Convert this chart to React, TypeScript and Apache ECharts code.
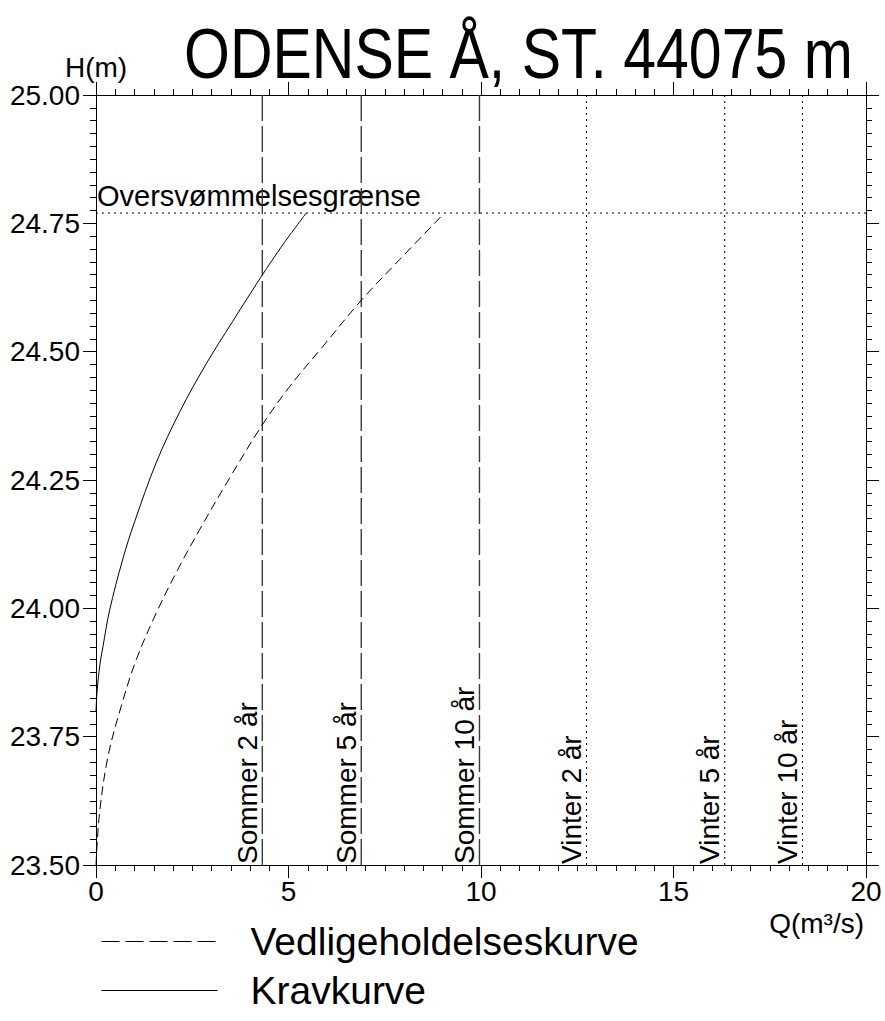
import React, { useEffect, useRef } from "react";
import * as echarts from "echarts";

const FONT = "'Liberation Sans', Arial, Helvetica, sans-serif";

const titleText = "ODENSE Å, ST. 44075 m";
const yAxisName = "H(m)";
const xAxisName = "Q(m³/s)";

const qMin = 0;
const qMax = 20;
const qInterval = 5;
const hMin = 23.5;
const hMax = 25.0;
const hInterval = 0.25;

// Kravkurve (solid)
const kravQ = [0, 0.03, 0.1, 0.18, 0.35, 0.7, 1.0, 1.56, 2.17, 2.86, 3.55, 4.29, 4.85, 5.46];
const kravH = [23.8, 23.84, 23.89, 23.925, 23.995, 24.097, 24.168, 24.283, 24.382, 24.476, 24.559, 24.646, 24.708, 24.77];

// Vedligeholdelseskurve (dashed)
const vedlQ = [0, 0.09, 0.31, 0.65, 1.04, 1.56, 2.12, 2.69, 3.4, 4.29, 5.03, 5.89, 6.89, 7.88, 9.05];
const vedlH = [23.5, 23.6, 23.711, 23.808, 23.899, 23.99, 24.075, 24.153, 24.245, 24.354, 24.432, 24.51, 24.6, 24.679, 24.77];

const floodLevel = 24.77;
const floodLabel = "Oversvømmelsesgrænse";

const returnLabels = ["Sommer 2 år", "Sommer 5 år", "Sommer 10 år", "Vinter 2 år", "Vinter 5 år", "Vinter 10 år"];
const returnQ = [4.32, 6.89, 9.96, 12.74, 16.33, 18.35];
const returnSeason = ["sommer", "sommer", "sommer", "vinter", "vinter", "vinter"];

const legendNames = ["Vedligeholdelseskurve", "Kravkurve"];

export default function App() {
  const ref = useRef<HTMLDivElement>(null);

  useEffect(() => {
    if (!ref.current) return;
    const chart = echarts.init(ref.current, null, { renderer: "svg" });

    const axisLine = { show: true, onZero: false, lineStyle: { color: "#000", width: 1 } };
    const axisTick = { show: true, inside: false, length: 13, lineStyle: { color: "#000", width: 1 } };
    const minorTick = { show: true, splitNumber: 10, length: 6, lineStyle: { color: "#000", width: 1 } };

    const returnSeries = returnQ.map((q, i) => ({
      name: returnLabels[i],
      type: "line",
      data: [
        [q, hMin],
        [q, hMax],
      ],
      symbol: "none",
      silent: true,
      lineStyle:
        returnSeason[i] === "sommer"
          ? { color: "#3a3a3a", width: 1.4, type: [26, 5] }
          : { color: "#000", width: 1, type: [2, 4] },
      z: 1,
    }));

    chart.setOption({
      animation: false,
      backgroundColor: "#fff",
      legend: {
        orient: "vertical",
        left: 96,
        top: 917,
        itemWidth: 116,
        itemHeight: 14,
        itemGap: 10,
        selectedMode: false,
        itemStyle: { opacity: 0 },
        data: [
          { name: legendNames[0], lineStyle: { type: [18, 6], width: 1, color: "#000" } },
          { name: legendNames[1], lineStyle: { type: "solid", width: 1, color: "#000" } },
        ],
        textStyle: { fontSize: 39, color: "#000", fontFamily: FONT, padding: [0, 0, 0, 28] },
      },
      grid: { left: 96, right: 19, top: 95, bottom: 156, containLabel: false },
      xAxis: [
        {
          type: "value",
          min: qMin,
          max: qMax,
          interval: qInterval,
          position: "bottom",
          axisLine,
          axisTick,
          minorTick,
          splitLine: { show: false },
          minorSplitLine: { show: false },
          axisLabel: { fontSize: 28, color: "#000", fontFamily: FONT, margin: 12 },
        },
        {
          type: "value",
          min: qMin,
          max: qMax,
          interval: qInterval,
          position: "top",
          axisLine,
          axisTick,
          minorTick,
          splitLine: { show: false },
          minorSplitLine: { show: false },
          axisLabel: { show: false },
        },
      ],
      yAxis: [
        {
          type: "value",
          min: hMin,
          max: hMax,
          interval: hInterval,
          position: "left",
          name: yAxisName,
          nameLocation: "end",
          nameGap: 12,
          nameTextStyle: { fontSize: 28, color: "#000", fontFamily: FONT, align: "center" },
          axisLine,
          axisTick,
          minorTick,
          splitLine: { show: false },
          minorSplitLine: { show: false },
          axisLabel: {
            fontSize: 28,
            color: "#000",
            fontFamily: FONT,
            margin: 16,
            formatter: (v: number) => v.toFixed(2),
          },
        },
        {
          type: "value",
          min: hMin,
          max: hMax,
          interval: hInterval,
          position: "right",
          axisLine,
          axisTick,
          minorTick,
          splitLine: { show: false },
          minorSplitLine: { show: false },
          axisLabel: { show: false },
        },
      ],
      series: [
        {
          name: legendNames[0],
          type: "line",
          data: vedlQ.map((q, i) => [q, vedlH[i]]),
          smooth: 0.35,
          symbol: "none",
          lineStyle: { color: "#000", width: 1, type: [9, 5] },
          itemStyle: { color: "#000" },
          z: 3,
        },
        {
          name: legendNames[1],
          type: "line",
          data: kravQ.map((q, i) => [q, kravH[i]]),
          smooth: 0.35,
          symbol: "none",
          lineStyle: { color: "#000", width: 1, type: "solid" },
          itemStyle: { color: "#000" },
          z: 3,
        },
        {
          name: "flood",
          type: "line",
          data: [
            [qMin, floodLevel],
            [qMax, floodLevel],
          ],
          symbol: "none",
          silent: true,
          lineStyle: { color: "#000", width: 1, type: [2, 4] },
          z: 1,
        },
        ...returnSeries,
      ],
    });

    const px = (q: number, h: number) =>
      chart.convertToPixel({ xAxisIndex: 0, yAxisIndex: 0 }, [q, h]) as number[];

    const floodPt = px(qMin, floodLevel);
    const cornerBR = px(qMax, hMin);

    const graphics: any[] = [
      {
        type: "text",
        x: 184,
        y: 89,
        scaleY: 1.18,
        style: {
          text: titleText,
          fill: "#000",
          fontSize: 59,
          fontFamily: FONT,
          align: "left",
          verticalAlign: "bottom",
          textAlign: "left",
          textVerticalAlign: "bottom",
        },
      },
      {
        type: "text",
        x: floodPt[0] + 1,
        y: floodPt[1] - 3,
        style: {
          text: floodLabel,
          fill: "#000",
          fontSize: 29,
          fontFamily: FONT,
          align: "left",
          verticalAlign: "bottom",
          textAlign: "left",
          textVerticalAlign: "bottom",
        },
      },
      {
        type: "text",
        x: cornerBR[0] - 2,
        y: cornerBR[1] + 58,
        style: {
          text: xAxisName,
          fill: "#000",
          fontSize: 28,
          fontFamily: FONT,
          align: "right",
          verticalAlign: "middle",
          textAlign: "right",
          textVerticalAlign: "middle",
        },
      },
      ...returnQ.map((q, i) => {
        const p = px(q, hMin);
        return {
          type: "text",
          x: p[0] - 1,
          y: p[1] - 1,
          rotation: Math.PI / 2,
          style: {
            text: returnLabels[i],
            fill: "#000",
            fontSize: 28,
            fontFamily: FONT,
            align: "left",
            verticalAlign: "bottom",
            textAlign: "left",
            textVerticalAlign: "bottom",
          },
        };
      }),
    ];

    chart.setOption({ graphic: graphics });

    return () => chart.dispose();
  }, []);

  return (
    <div
      ref={ref}
      style={{ position: "absolute", left: 0, top: 0, width: 885, height: 1021, background: "#fff" }}
    />
  );
}
